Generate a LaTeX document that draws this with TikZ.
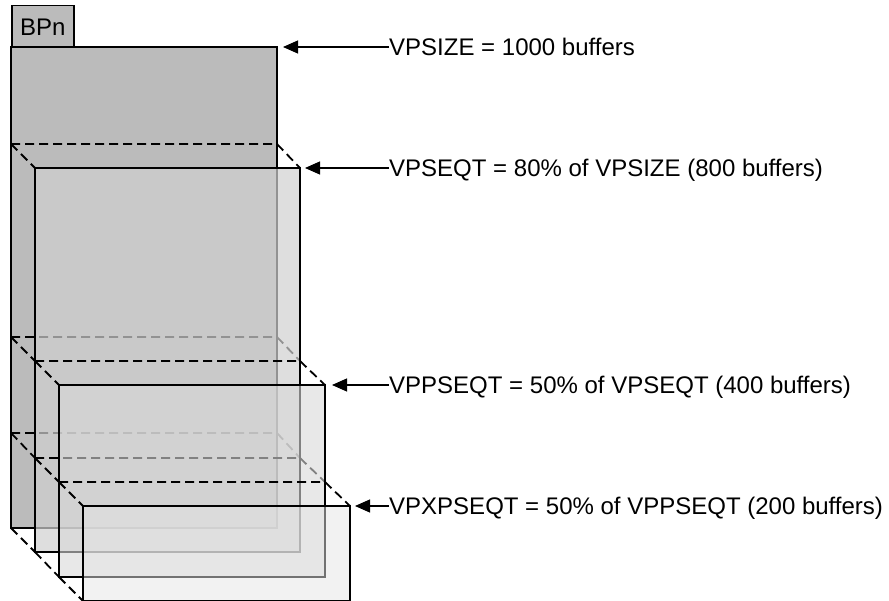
\documentclass[tikz,border=0pt]{standalone}
\usepackage{fontspec}
\setmainfont{Liberation Sans}
\usetikzlibrary{arrows.meta}
\definecolor{gA}{HTML}{BBBBBB}
\definecolor{gB}{HTML}{D0D0D0}
\definecolor{gC}{HTML}{D8D8D8}
\definecolor{gD}{HTML}{E5E5E5}
\begin{document}
\begin{tikzpicture}[x=1pt,y=-1pt,
  box/.style={draw=black, line width=2.2pt},
  dsh/.style={draw=black, line width=1.8pt, dash pattern=on 9pt off 5pt},
  arr/.style={-{Triangle[length=15pt,width=13pt]}, line width=1.2pt},
  lbl/.style={anchor=base west, inner sep=0pt, font=\fontsize{24}{28}\selectfont}]
\useasboundingbox (0,0) rectangle (889,601);

% back buffer pool
\node (tab) [draw=black, line width=1.5pt, fill=gA, minimum width=62pt, minimum height=42pt,
  inner sep=0pt, anchor=north west, font=\fontsize{24}{28}\selectfont] at (11,5) {BPn};
\draw[box, fill=gA] (11,47) rectangle (277,528);

% dashed outlines, layer 1
\draw[dsh] (11,144) -- (277,144) (11,144) -- (35,168) (277,144) -- (300,168);
\draw[dsh] (11,337) -- (277,337) (11,337) -- (35,361) (277,337) -- (300,361);
\draw[dsh] (11,433) -- (277,433) (11,433) -- (35,458) (277,433) -- (300,458);
\draw[dsh] (11,528) -- (35,552);

% VPSEQT
\draw[box, fill=gB, fill opacity=0.7] (35,168) rectangle (300,552);
\draw[dsh] (35,361) -- (300,361) (35,361) -- (59,385) (300,361) -- (325,385);
\draw[dsh] (35,458) -- (300,458) (35,458) -- (59,482) (300,458) -- (325,482);
\draw[dsh] (35,552) -- (59,577);

% VPPSEQT
\draw[box, fill=gC, fill opacity=0.6] (59,385) rectangle (325,577);
\draw[dsh] (59,482) -- (325,482) (59,482) -- (83,506) (325,482) -- (350,506);
\draw[dsh] (59,577) -- (83,601);

% VPXPSEQT
\draw[box, fill=gD, fill opacity=0.5] (83,506) rectangle (350,600.8);

% labels and arrows
\coordinate (t1) at (283,47);
\coordinate (t2) at (305,168);
\coordinate (t3) at (332,385);
\coordinate (t4) at (355,506);
\node[lbl] (l1) at (389,55.6) {VPSIZE = 1000 buffers};
\node[lbl] (l2) at (389,176.6) {VPSEQT = 80\% of VPSIZE (800 buffers)};
\node[lbl] (l3) at (389,393.6) {VPPSEQT = 50\% of VPSEQT (400 buffers)};
\node[lbl] (l4) at (389,514.6) {VPXPSEQT = 50\% of VPPSEQT (200 buffers)};
\draw[arr] (l1.west |- t1) -- (t1);
\draw[arr] (l2.west |- t2) -- (t2);
\draw[arr] (l3.west |- t3) -- (t3);
\draw[arr] (l4.west |- t4) -- (t4);
\end{tikzpicture}
\end{document}
